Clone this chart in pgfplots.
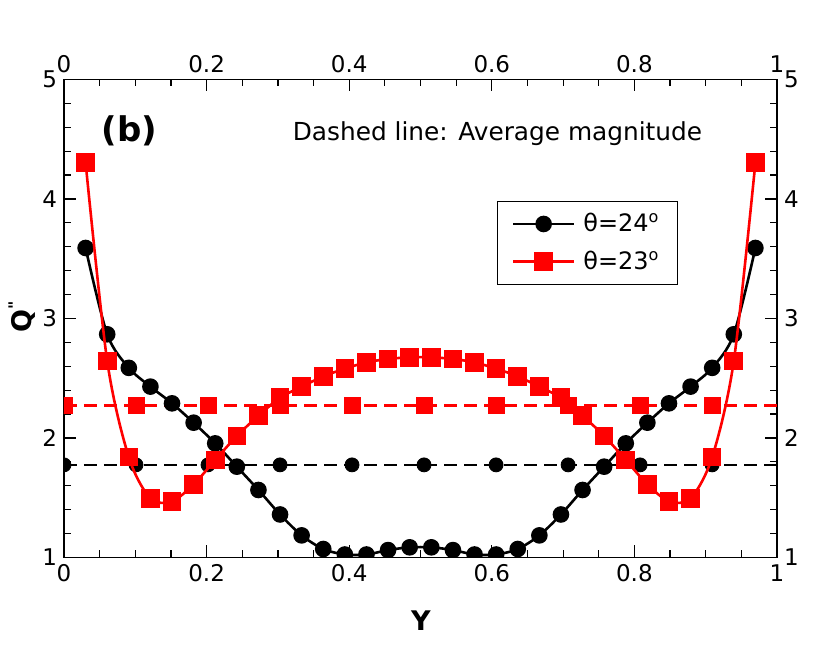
\documentclass[border=0pt]{standalone}
\usepackage{pgfplots}
\pgfplotsset{compat=1.18}
\usepackage{fontspec}
\setmainfont{DejaVu Sans}
\pgfplotstableread{
x y
0.0303 3.590
0.0606 2.868
0.0909 2.587
0.1212 2.430
0.1515 2.290
0.1818 2.128
0.2121 1.955
0.2424 1.760
0.2727 1.565
0.3030 1.360
0.3333 1.185
0.3636 1.071
0.3939 1.025
0.4242 1.025
0.4545 1.062
0.4848 1.085
0.5152 1.085
0.5455 1.062
0.5758 1.025
0.6061 1.025
0.6364 1.071
0.6667 1.185
0.6970 1.360
0.7273 1.565
0.7576 1.760
0.7879 1.955
0.8182 2.128
0.8485 2.290
0.8788 2.430
0.9091 2.587
0.9394 2.868
0.9697 3.590
}\blackdata
\pgfplotstableread{
x y
0.0303 4.304
0.0606 2.644
0.0909 1.840
0.1212 1.495
0.1515 1.470
0.1818 1.612
0.2121 1.816
0.2424 2.017
0.2727 2.186
0.3030 2.337
0.3333 2.429
0.3636 2.516
0.3939 2.580
0.4242 2.633
0.4545 2.661
0.4848 2.675
0.5152 2.675
0.5455 2.661
0.5758 2.633
0.6061 2.580
0.6364 2.516
0.6667 2.429
0.6970 2.337
0.7273 2.186
0.7576 2.017
0.7879 1.816
0.8182 1.612
0.8485 1.470
0.8788 1.495
0.9091 1.840
0.9394 2.644
0.9697 4.304
}\reddata
\pgfplotstableread{
x y
0.000 1.775
0.101 1.775
0.202 1.775
0.303 1.775
0.404 1.775
0.505 1.775
0.606 1.775
0.707 1.775
0.808 1.775
0.909 1.775
}\blackavg
\pgfplotstableread{
x y
0.000 2.27
0.101 2.27
0.202 2.27
0.303 2.27
0.404 2.27
0.505 2.27
0.606 2.27
0.707 2.27
0.808 2.27
0.909 2.27
}\redavg
\pgfplotsset{
  common/.style={
    at={(0,0)}, anchor=south west, scale only axis,
    width=356.5pt, height=239pt,
    xmin=0, xmax=1, ymin=1, ymax=5,
    xtick={0,0.2,0.4,0.6,0.8,1}, ytick={1,2,3,4,5},
    minor x tick num=3, minor y tick num=4,
    major tick length=6pt, minor tick length=3.5pt,
    tick style={black, line width=0.6pt},
    axis line style={line width=0.9pt},
    tick pos=both,
    tick label style={font=\fontsize{11.5}{13}\selectfont},
    /pgf/number format/assume math mode=true,
  },
  longleg/.style={legend image code/.code={\draw[mark repeat=2,mark phase=2,##1] plot coordinates {(0cm,0cm)(0.535cm,0cm)(1.07cm,0cm)};}},
}
\begin{document}
\begin{tikzpicture}
\useasboundingbox (-32pt,-46.75pt) rectangle (383pt,278.75pt);
\begin{axis}[common,
  xticklabel pos=upper, yticklabel pos=right]
\end{axis}
\begin{axis}[common,
  xticklabel pos=lower, yticklabel pos=left,
  clip marker paths=true,
  xlabel={\bfseries Y},
  xlabel style={at={(axis description cs:0.5007,-0.1328)}, anchor=center, font=\fontsize{13.5}{15}\selectfont},
  ylabel={\bfseries Q\raisebox{0.75ex}{\fontsize{8}{9}\selectfont\textquotedbl}},
  ylabel style={at={(axis description cs:-0.0589,0.503)}, anchor=center, font=\fontsize{13.5}{15}\selectfont},
  legend style={at={(rel axis cs:0.6077,0.7465)}, anchor=north west, draw=black, line width=0.6pt,
    font=\fontsize{12}{14}\selectfont, inner xsep=7pt, inner ysep=4pt, row sep=4pt},
  legend cell align=left,
]
\addplot[forget plot, black, line width=1.3pt, dash pattern=on 6.5pt off 3.5pt] coordinates {(0,1.775) (1,1.775)};
\addplot[forget plot, only marks, black, mark=*, mark size=3.5pt] table {\blackavg};
\addplot[forget plot, red, line width=1.3pt, dash pattern=on 6.5pt off 3.5pt] coordinates {(0,2.27) (1,2.27)};
\addplot[forget plot, only marks, red, mark=square*, mark size=4pt] table {\redavg};
\addplot[black, line width=1.3pt, smooth, mark=*, mark size=3.5pt, longleg] table {\blackdata};
\addlegendentry{\hspace{2pt}θ=24\textsuperscript{o}\hspace{5.5pt}}
\addplot[red, line width=1.3pt, smooth, mark=square*, mark size=4pt, longleg] table {\reddata};
\addlegendentry{\hspace{2pt}θ=23\textsuperscript{o}\hspace{5.5pt}}
\node[font=\bfseries\fontsize{17}{20}\selectfont] at (axis cs:0.092,4.569) {(b)};
\node[font=\fontsize{12.4}{15}\selectfont] at (axis cs:0.608,4.544) {Dashed line: Average magnitude};
\end{axis}
\end{tikzpicture}
\end{document}
